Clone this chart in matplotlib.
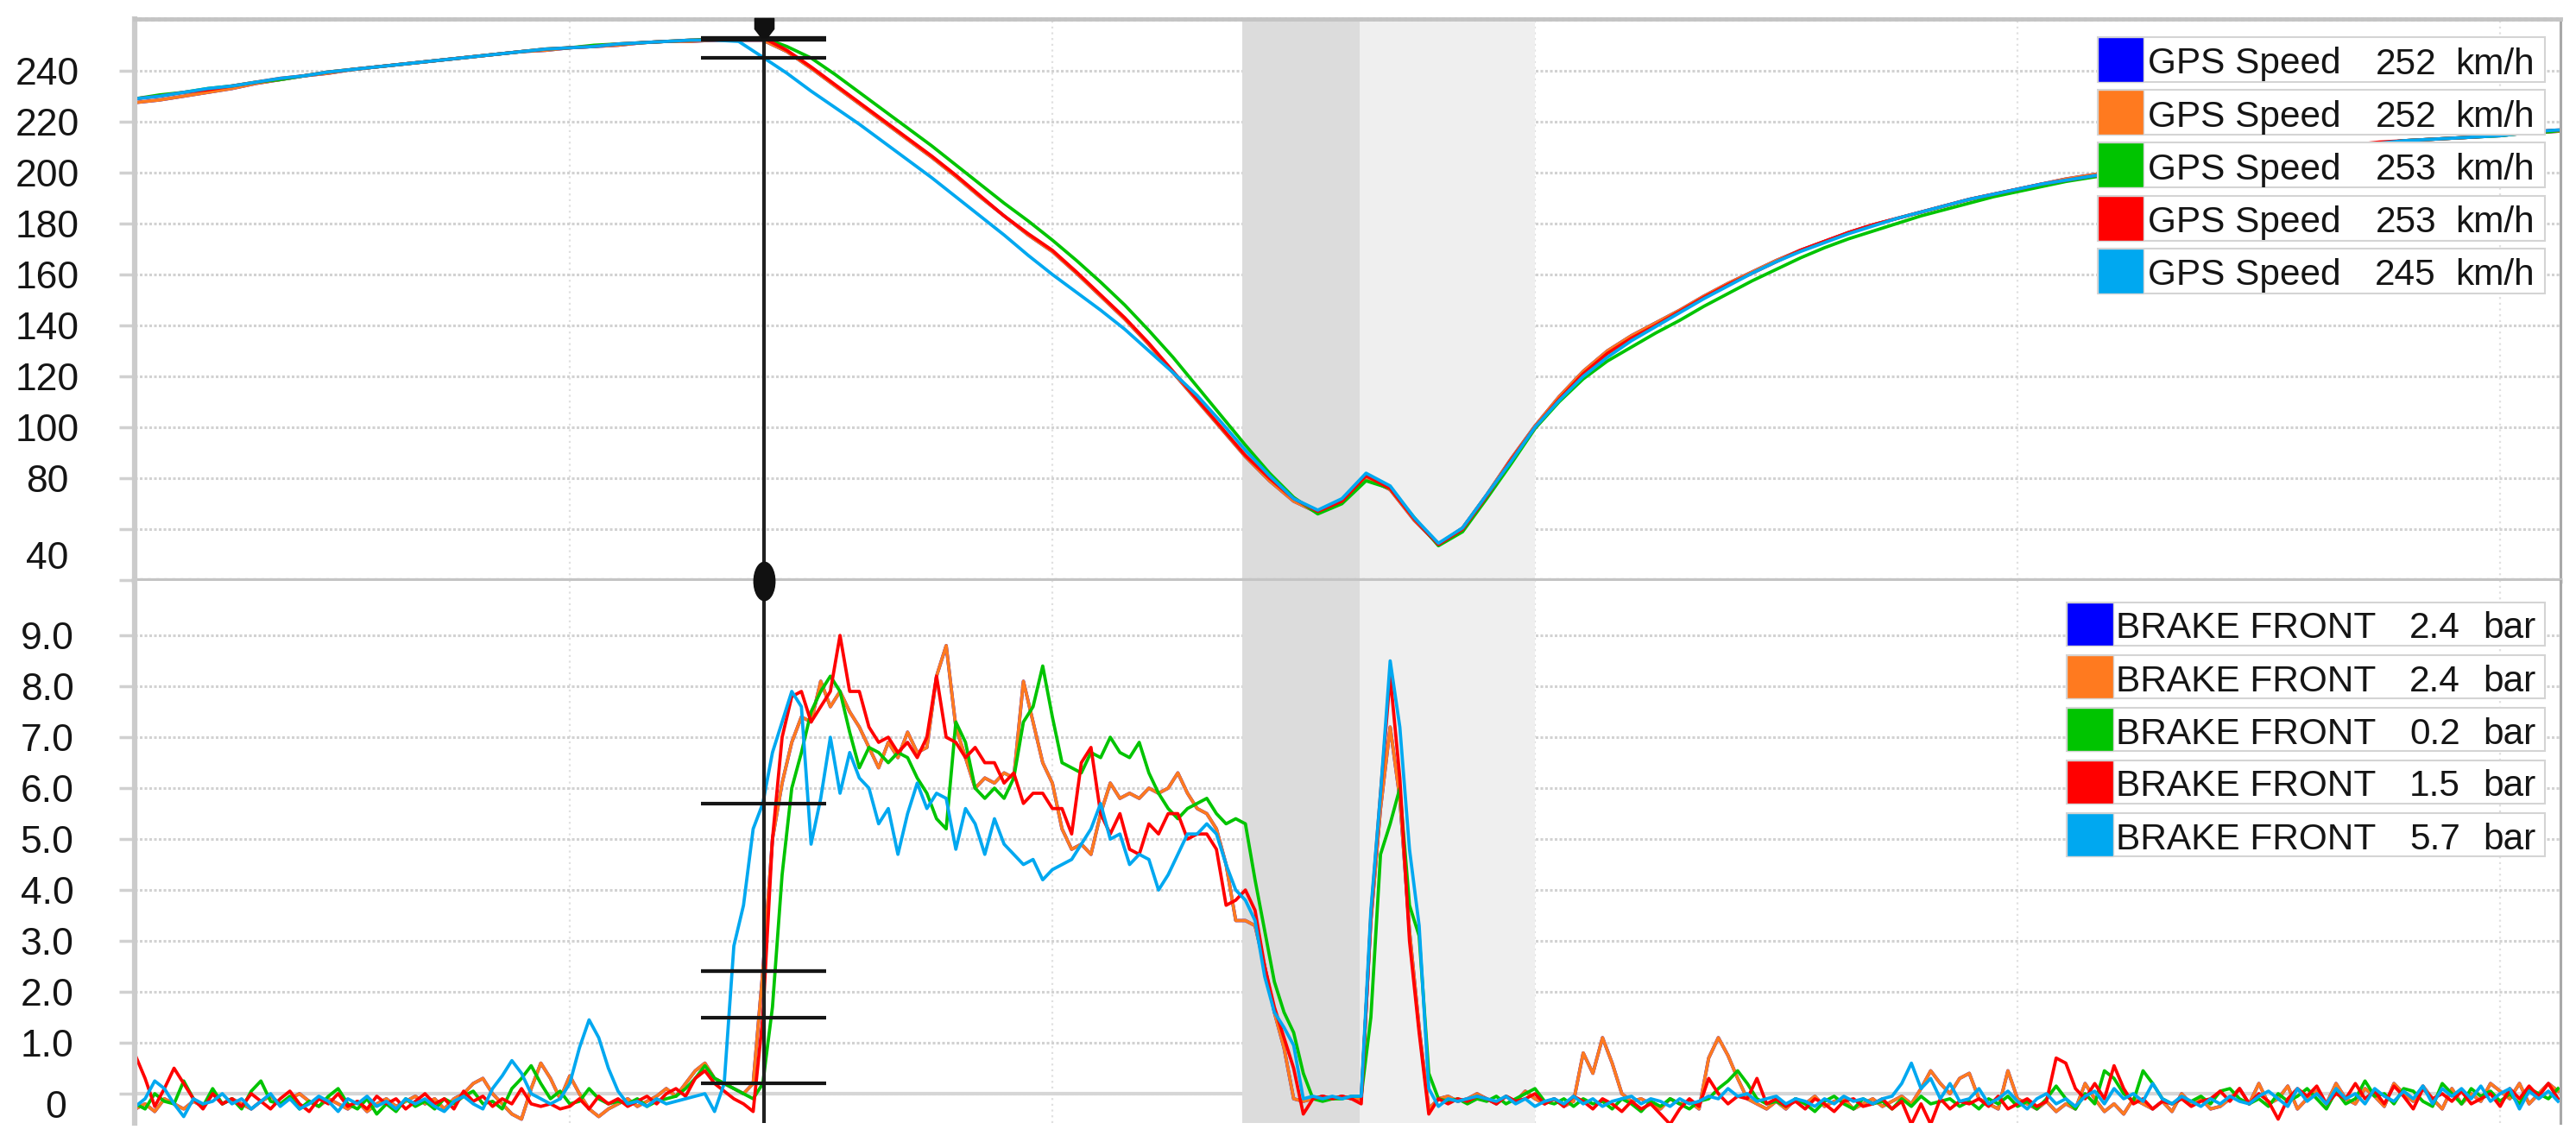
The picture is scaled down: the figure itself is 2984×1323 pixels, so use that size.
import numpy as np
import matplotlib.pyplot as plt
from matplotlib.path import Path
from matplotlib.patches import Rectangle
from matplotlib import transforms

plt.rcParams['font.family'] = ['Liberation Sans', 'DejaVu Sans']

W, H = 2984, 1323

# five laps, dark blue lap sits under the orange one
colors = ['#0000ff', '#ff7a1f', '#00c400', '#ff0000', '#00a8f0']

cursor_x = 140.2
speed_cursor = [252, 252, 253, 253, 245]
brake_cursor = [2.4, 2.4, 0.2, 1.5, 5.7]
dark_zone = (239.4, 263.6)
light_zone = (263.6, 300.0)

# ---- GPS speed (km/h), sampled every 5 m from 10 m
speed_x = np.arange(10, 520, 5)

speed_red = [
    229, 230, 231.5, 232.5, 234, 235.5, 237, 238, 239.5, 240.5,
    241.5, 242.5, 243.5, 244.5, 245.5, 246.5, 247.5, 248.5, 249, 249.5,
    250.5, 251, 251.5, 252, 252, 252.5, 253, 248, 241.5, 234.5,
    227.5, 220.5, 213.5, 206.5, 199, 191, 183, 176, 169.5, 161,
    152, 143, 133, 122, 111, 100, 89, 80, 72, 67,
    71, 81, 76, 64, 54, 60, 73, 87, 100, 111,
    121, 129, 135, 140, 145.5, 151, 156, 160.5, 165, 169.5,
    173, 176.5, 179.5, 182, 184.5, 187, 189.5, 191.5, 193.5, 195.5,
    197, 198.5, 200, 201.5, 203, 204, 205.5, 206.5, 207.5, 208.5,
    209.5, 210.5, 211, 212, 212.5, 213, 213.5, 214, 215, 215.5,
    216.5, 217]

speed_green = [
    229, 230.5, 231.5, 233, 234, 235.5, 236.5, 238, 239.5, 240.5,
    241.5, 242.5, 243.5, 244.5, 245.5, 246.5, 247.5, 248.5, 249, 250,
    250.5, 251, 251.5, 252, 252.5, 252.5, 253, 249.5, 245, 238.5,
    231.5, 224.5, 217.5, 210.5, 203, 195.5, 188, 181, 173.5, 165.5,
    157, 148, 138, 127.5, 116, 104.5, 93, 82, 72.5, 66,
    70, 79, 76, 64.5, 53.5, 59, 72, 85.5, 99.5, 110,
    119, 126, 131.5, 137, 142, 147.5, 152.5, 157.5, 162, 166.5,
    170.5, 174, 177, 180, 183, 185.5, 188, 190.5, 192.5, 194.5,
    196.5, 198, 199.5, 201, 202.5, 204, 205, 206.5, 207.5, 208.5,
    209.5, 210, 211, 211.5, 212.5, 213, 213.5, 214, 214.5, 215.5,
    216, 217]

speed_orange = [
    227.5, 228.5, 230, 231.5, 233, 235, 236.5, 238, 239, 240.5,
    241.5, 242.5, 243.5, 244.5, 245.5, 246.5, 247.5, 248, 249, 249.5,
    250, 251, 251.5, 251.5, 252, 252, 252, 247.5, 241, 234,
    227, 220, 213, 206, 198.5, 190.5, 183, 175.5, 169, 160.5,
    151.5, 142.5, 132.5, 121.5, 110.5, 99.5, 88.5, 79, 71, 66.5,
    70.5, 80.5, 75.5, 63.5, 54, 60.5, 73.5, 87.5, 100.5, 112,
    122, 130, 136, 141, 146, 151.5, 156.5, 161, 165.5, 169.5,
    173, 176.5, 179.5, 182, 184.5, 187, 189.5, 191.5, 193.5, 195.5,
    197.5, 199, 200.5, 202, 203, 204.5, 205.5, 206.5, 207.5, 208.5,
    209.5, 210, 211, 211.5, 212.5, 213, 213.5, 214, 214.5, 215.5,
    216, 216.5]

speed_lightblue = [
    229, 230, 231.5, 233, 234, 235.5, 237, 238, 239.5, 240.5,
    241.5, 242.5, 243.5, 244.5, 245.5, 246.5, 247.5, 248.5, 249, 249.5,
    250.5, 251, 251.5, 252, 252, 251.5, 245.3, 239, 232, 225.5,
    219, 212, 205, 198, 190.5, 183, 175.5, 167.5, 160, 153,
    146, 138.5, 130, 121.5, 112.5, 102, 91, 81, 72, 67.5,
    72, 82, 77, 64.5, 54.5, 60.5, 73.5, 86.5, 100, 110.5,
    120, 127.5, 134, 139.5, 145, 150.5, 155.5, 160.5, 165, 169,
    172.5, 176, 179, 182, 184.5, 187, 189.5, 191.5, 193.5, 195.5,
    197, 198.5, 200, 201.5, 202.5, 204, 205, 206.5, 207.5, 208.5,
    209.5, 210.5, 211, 211.5, 212.5, 213, 213.5, 214, 214.5, 215.5,
    216.5, 217]

speed_blue = list(speed_orange)

# ---- front brake pressure (bar), sampled every 2 m from 10 m
brake_x = np.arange(10, 514, 2)

brake_red = [
    0.75, 0.3, -0.25, 0.1, 0.5, 0.2, -0.1, -0.3, 0.0, -0.2,
    -0.1, -0.25, 0.0, -0.15, -0.3, -0.1, 0.05, -0.2, -0.35, -0.1,
    -0.2, 0.0, -0.25, -0.15, -0.3, -0.05, -0.2, -0.1, -0.3, -0.15,
    0.0, -0.2, -0.1, -0.3, 0.05, -0.15, -0.05, -0.25, -0.1, -0.2,
    0.1, -0.2, -0.25, -0.2, -0.3, -0.25, -0.1, -0.3, -0.05, -0.2,
    -0.1, -0.25, -0.15, -0.05, -0.2, 0.0, 0.1, -0.05, 0.3, 0.45,
    0.2, 0.05, -0.1, -0.2, -0.35, 1.5, 5.0, 7.0, 7.8, 7.9,
    7.3, 7.6, 7.9, 9.0, 7.9, 7.9, 7.2, 6.9, 7.0, 6.7,
    6.9, 6.6, 7.0, 8.2, 7.0, 6.9, 6.6, 6.8, 6.5, 6.5,
    6.1, 6.3, 5.7, 5.9, 5.9, 5.6, 5.6, 5.1, 6.5, 6.8,
    5.5, 5.1, 5.5, 4.8, 4.7, 5.3, 5.1, 5.5, 5.5, 5.0,
    5.1, 5.1, 4.8, 3.7, 3.8, 4.0, 3.6, 2.5, 1.7, 1.1,
    0.5, -0.4, -0.1, -0.05, -0.1, -0.05, -0.1, -0.2, 3.5, 5.9,
    8.2, 6.2, 3.0, 1.2, -0.4, -0.1, -0.2, -0.1, -0.15, -0.05,
    -0.1, -0.2, -0.05, -0.15, -0.1, 0.0, -0.2, -0.1, -0.25, -0.05,
    -0.15, -0.3, -0.1, -0.2, -0.35, -0.15, -0.3, -0.2, -0.4, -0.6,
    -0.3, -0.1, -0.25, 0.3, 0.0, -0.2, -0.05, -0.1, 0.3, -0.2,
    -0.1, -0.25, -0.15, -0.3, -0.1, -0.2, -0.35, -0.15, -0.1, -0.25,
    -0.2, -0.1, -0.3, -0.15, -0.6, -0.2, -0.6, -0.1, -0.3, -0.15,
    -0.2, -0.1, -0.25, -0.05, -0.3, -0.2, -0.1, -0.25, -0.15, 0.7,
    0.6, 0.1, -0.1, 0.2, -0.1, 0.55, 0.1, -0.2, -0.1, -0.3,
    -0.15, -0.2, -0.1, -0.25, -0.15, -0.1, 0.05, -0.15, 0.1, -0.2,
    0.0, -0.15, -0.5, -0.1, 0.1, -0.05, 0.15, -0.2, 0.0, -0.1,
    0.2, -0.1, 0.05, -0.2, 0.15, -0.05, -0.3, 0.1, -0.1, 0.0,
    -0.15, 0.05, -0.2, -0.1, 0.0, -0.25, 0.1, -0.1, 0.15, -0.05,
    0.2, -0.1]

brake_green = [
    -0.2, -0.3, 0.0, -0.15, -0.2, 0.25, -0.1, -0.25, 0.1, -0.2,
    -0.1, -0.3, 0.05, 0.25, -0.15, -0.2, -0.05, -0.3, -0.15, -0.25,
    -0.05, 0.1, -0.2, -0.3, -0.1, -0.4, -0.2, -0.35, -0.1, -0.25,
    -0.15, -0.3, -0.1, -0.2, -0.05, 0.05, -0.2, -0.15, -0.3, 0.1,
    0.3, 0.55, 0.2, -0.1, 0.05, -0.2, -0.15, 0.1, -0.1, -0.2,
    -0.15, -0.2, -0.1, -0.25, -0.15, -0.1, -0.05, 0.1, 0.3, 0.55,
    0.3, 0.2, 0.1, 0.0, -0.1, 0.2, 1.7, 4.3, 6.0, 6.7,
    7.5, 7.9, 8.2, 7.9, 7.1, 6.4, 6.8, 6.7, 6.5, 6.7,
    6.6, 6.2, 5.9, 5.4, 5.2, 7.3, 6.9, 6.0, 5.8, 6.0,
    5.8, 6.2, 7.3, 7.6, 8.4, 7.4, 6.5, 6.4, 6.3, 6.7,
    6.6, 7.0, 6.7, 6.6, 6.9, 6.3, 5.9, 5.6, 5.4, 5.6,
    5.7, 5.8, 5.5, 5.3, 5.4, 5.3, 4.2, 3.2, 2.2, 1.6,
    1.2, 0.4, -0.1, -0.15, -0.1, -0.1, -0.05, -0.05, 1.5, 4.7,
    5.3, 6.0, 3.7, 3.1, 0.4, -0.1, -0.15, -0.1, -0.2, -0.1,
    -0.15, -0.05, -0.2, -0.1, 0.0, 0.1, -0.15, -0.2, -0.1, -0.25,
    -0.1, -0.2, -0.15, -0.3, -0.1, -0.2, -0.35, -0.15, -0.25, -0.1,
    -0.2, -0.3, -0.15, -0.1, 0.1, 0.25, 0.45, 0.2, -0.1, -0.2,
    -0.15, -0.25, -0.1, -0.2, -0.35, -0.15, -0.05, -0.2, -0.3, -0.1,
    -0.2, -0.15, -0.3, -0.1, -0.25, -0.05, -0.2, -0.15, -0.1, -0.25,
    -0.15, -0.3, -0.1, -0.2, -0.05, -0.25, -0.15, -0.3, -0.1, 0.15,
    -0.1, -0.3, 0.0, -0.2, 0.45, 0.3, 0.0, -0.15, 0.45, 0.2,
    -0.1, -0.2, -0.1, -0.15, -0.05, -0.2, 0.05, 0.1, -0.1, -0.2,
    -0.1, -0.25, 0.0, -0.15, -0.05, 0.1, -0.1, -0.3, 0.05, -0.2,
    -0.1, 0.25, -0.05, 0.0, -0.2, 0.1, 0.05, -0.15, -0.25, 0.2,
    0.0, -0.2, 0.1, -0.05, 0.05, -0.15, 0.0, -0.2, 0.1, 0.0,
    -0.1, 0.1]

brake_orange = [
    -0.3, -0.2, -0.35, -0.1, -0.2, -0.3, -0.15, -0.25, 0.0, -0.2,
    -0.1, -0.2, -0.3, -0.15, -0.05, -0.2, -0.1, 0.0, -0.15, -0.25,
    -0.1, -0.2, -0.3, -0.15, -0.35, -0.2, -0.1, -0.25, -0.15, -0.05,
    -0.2, -0.1, -0.3, -0.1, 0.0, 0.2, 0.3, 0.0, -0.2, -0.4,
    -0.5, 0.1, 0.6, 0.3, -0.1, 0.35, 0.0, -0.3, -0.45, -0.3,
    -0.2, -0.1, -0.25, -0.15, -0.05, 0.1, -0.05, 0.2, 0.45, 0.6,
    0.3, 0.2, 0.1, 0.0, 0.2, 2.4, 5.0, 6.1, 6.9, 7.4,
    7.3, 8.1, 7.6, 7.9, 7.5, 7.2, 6.8, 6.4, 6.9, 6.6,
    7.1, 6.7, 6.8, 8.2, 8.8, 7.2, 6.6, 6.0, 6.2, 6.1,
    6.3, 6.2, 8.1, 7.3, 6.5, 6.1, 5.2, 4.8, 4.9, 4.7,
    5.5, 6.1, 5.8, 5.9, 5.8, 6.0, 5.9, 6.0, 6.3, 5.9,
    5.6, 5.5, 5.2, 4.5, 3.4, 3.4, 3.3, 2.5, 1.6, 0.9,
    -0.1, -0.15, -0.1, -0.05, -0.1, -0.05, -0.1, -0.1, 3.4, 5.6,
    7.2, 5.8, 3.2, 1.3, -0.3, -0.1, -0.05, -0.15, -0.1, 0.0,
    -0.1, -0.2, -0.05, -0.15, 0.05, -0.1, -0.2, -0.1, -0.25, -0.15,
    0.8, 0.4, 1.1, 0.6, 0.0, -0.15, -0.1, -0.2, -0.3, -0.1,
    -0.2, -0.15, -0.3, 0.7, 1.1, 0.75, 0.3, -0.1, -0.2, -0.3,
    -0.15, -0.3, -0.1, -0.2, -0.05, -0.25, -0.15, -0.1, -0.3, -0.2,
    -0.1, -0.25, -0.15, -0.05, -0.2, 0.1, 0.45, 0.2, 0.0, 0.3,
    0.4, -0.1, -0.2, -0.3, 0.45, -0.1, -0.2, -0.3, -0.15, -0.35,
    -0.2, -0.3, 0.2, -0.1, -0.35, -0.2, -0.4, -0.1, -0.2, -0.3,
    -0.15, -0.35, 0.0, -0.2, -0.1, -0.3, -0.25, -0.1, 0.1, -0.2,
    0.2, -0.2, -0.1, 0.15, -0.3, -0.1, 0.05, -0.2, 0.2, -0.1,
    -0.2, 0.1, -0.05, -0.25, 0.2, 0.0, -0.15, 0.15, -0.1, -0.3,
    0.1, -0.2, 0.0, -0.15, 0.2, 0.05, -0.1, 0.2, -0.2, 0.0,
    0.2, 0.05]

brake_lightblue = [
    -0.25, -0.1, 0.25, 0.1, -0.2, -0.45, -0.1, -0.2, -0.15, 0.0,
    -0.2, -0.1, -0.3, -0.15, 0.0, -0.25, -0.1, -0.3, -0.2, -0.05,
    -0.15, -0.35, -0.1, -0.2, -0.05, -0.25, -0.15, -0.3, -0.1, -0.2,
    -0.1, -0.25, -0.35, -0.15, -0.05, -0.2, -0.3, 0.1, 0.35, 0.65,
    0.4, 0.0, -0.1, -0.2, -0.1, 0.2, 0.9, 1.45, 1.1, 0.5,
    0.05, -0.2, -0.15, -0.25, -0.1, -0.2, -0.15, -0.1, -0.05, 0.0,
    -0.35, 0.2, 2.9, 3.7, 5.2, 5.7, 6.7, 7.3, 7.9, 7.6,
    4.9, 5.8, 7.0, 5.9, 6.7, 6.2, 6.0, 5.3, 5.6, 4.7,
    5.5, 6.1, 5.6, 5.9, 5.8, 4.8, 5.6, 5.3, 4.7, 5.4,
    4.9, 4.7, 4.5, 4.6, 4.2, 4.4, 4.5, 4.6, 4.9, 5.2,
    5.7, 5.0, 5.1, 4.5, 4.7, 4.6, 4.0, 4.3, 4.7, 5.1,
    5.1, 5.3, 5.1, 4.5, 4.0, 3.8, 3.4, 2.3, 1.6, 1.3,
    0.95, -0.1, -0.05, -0.1, -0.05, -0.1, -0.05, -0.05, 3.6, 5.9,
    8.5, 7.2, 4.8, 3.3, 0.1, -0.25, -0.1, -0.15, -0.1, -0.05,
    -0.1, -0.15, -0.05, -0.2, -0.1, -0.25, -0.15, -0.1, -0.2, -0.05,
    -0.2, -0.1, -0.25, -0.15, -0.1, -0.05, -0.2, -0.1, -0.15, -0.25,
    -0.1, -0.2, -0.15, -0.05, -0.1, 0.1, -0.05, 0.0, -0.15, -0.1,
    -0.05, -0.2, -0.1, -0.15, -0.25, -0.1, -0.2, -0.05, -0.15, -0.1,
    -0.2, -0.1, -0.05, 0.2, 0.6, 0.1, 0.3, -0.1, 0.2, -0.15,
    -0.1, 0.1, -0.2, -0.1, 0.05, -0.15, -0.3, -0.1, 0.0, -0.2,
    -0.1, -0.25, -0.05, 0.05, -0.2, 0.1, -0.1, 0.0, -0.15, 0.2,
    -0.1, -0.2, -0.05, -0.15, -0.25, -0.1, -0.2, -0.05, -0.15, -0.2,
    -0.05, 0.05, -0.1, -0.25, 0.1, -0.15, 0.0, -0.2, 0.1, -0.1,
    0.0, -0.2, 0.1, -0.05, -0.15, 0.05, -0.1, 0.15, -0.2, 0.1,
    -0.05, 0.1, -0.1, 0.15, -0.15, 0.0, 0.1, -0.3, 0.05, -0.1,
    0.05, -0.15]

brake_blue = list(brake_orange)

speeds = [speed_blue, speed_orange, speed_green, speed_red, speed_lightblue]
brakes = [brake_blue, brake_orange, brake_green, brake_red, brake_lightblue]
for s in speeds:
    assert len(s) == len(speed_x)
for b in brakes:
    assert len(b) == len(brake_x)

fig = plt.figure(figsize=(W / 100, H / 100), dpi=100)
ax1 = fig.add_axes([156 / W, 1 - 673 / H, 2810 / W, 651 / H])
ax2 = fig.add_axes([156 / W, 1 - 1301 / H, 2810 / W, 628 / H], sharex=ax1)

ax1.set_xlim(9.84, 512.5)
ax1.set_ylim(39.7, 260.3)
ax2.set_ylim(-0.576, 10.07)

spd_ticks = np.arange(40, 260, 20)
spd_labels = ['' if t in (40, 60) else str(t) for t in spd_ticks]
brk_ticks = np.arange(0, 10)
brk_labels = [''] + ['%.1f' % t for t in brk_ticks[1:]]

for ax, ticks, labels in ((ax1, spd_ticks, spd_labels), (ax2, brk_ticks, brk_labels)):
    ax.set_yticks(ticks, labels)
    ax.set_xticks([100, 200, 300, 400, 500])
    ax.tick_params(axis='x', bottom=False, labelbottom=False)
    ax.tick_params(axis='y', length=13, width=2.5, color='#d0d0d0', pad=60,
                   labelsize=32, labelcolor='#151515')
    for lab in ax.get_yticklabels():
        lab.set_horizontalalignment('center')
    ax.grid(axis='y', color='#d2d2d2', lw=2.2, ls=(0, (1, 0.8)))
    ax.grid(axis='x', color='#e0e0e0', lw=1.6, ls=(0, (1, 2)))
    ax.set_axisbelow(True)
    ax.axvspan(*dark_zone, color='#dcdcdc', lw=0, zorder=1)
    ax.axvspan(*light_zone, color='#efefef', lw=0, zorder=1)
    ax.spines['left'].set(color='#cbcbcb', lw=4.5)
    ax.spines['right'].set(color='#a8a8a8', lw=2.2)

ax1.spines['top'].set(color='#c4c4c4', lw=3.5, ls=(0, (1, 0.5)))
ax1.spines['bottom'].set(color='#c4c4c4', lw=4.5, ls=(0, (1, 0.5)))
ax2.spines['top'].set_visible(False)
ax2.spines['bottom'].set_visible(False)
ax2.axhline(0, color='#d6d6d6', lw=3, zorder=0.6)

# labels of the two edge ticks sit off their grid lines
tr1 = transforms.offset_copy(ax1.get_yaxis_transform(), fig=fig, x=-101, y=29, units='dots')
ax1.text(0, 40, '40', transform=tr1, ha='center', va='center_baseline',
         fontsize=32, color='#151515')
tr2 = transforms.offset_copy(ax2.get_yaxis_transform(), fig=fig, x=-91, y=-12, units='dots')
ax2.text(0, 0, '0', transform=tr2, ha='center', va='center_baseline',
         fontsize=32, color='#151515')

for s, c in zip(speeds, colors):
    ax1.plot(speed_x, s, color=c, lw=2.7, zorder=2)
for b, c in zip(brakes, colors):
    ax2.plot(brake_x, b, color=c, lw=2.7, zorder=2)

# cursor
for ax, vals in ((ax1, speed_cursor), (ax2, brake_cursor)):
    ax.axvline(cursor_x, color='#202020', lw=3, zorder=5)
    ax.hlines(vals, cursor_x - 13, cursor_x + 13, color='#151515', lw=3, zorder=6)

capsule = Path.unit_circle().transformed(transforms.Affine2D().scale(0.55, 1.0))
ax2.plot([cursor_x], [10.07], marker=capsule, ms=32, color='#111111',
         clip_on=False, zorder=7)
tab = Path([(-1, 1), (1, 1), (1, -0.1), (0.3, -1), (-0.3, -1), (-1, -0.1), (-1, 1)],
           [Path.MOVETO] + [Path.LINETO] * 5 + [Path.CLOSEPOLY])
ax1.plot([cursor_x], [257.0], marker=tab, ms=16, color='#111111',
         clip_on=False, zorder=7)


def legend_rows(tops, h, x0, sw, x1, name, vals, fmt, unit, name_x, val_x, unit_x):
    for top, v, c in zip(tops, vals, colors):
        y0 = 1 - (top + h) / H
        fig.add_artist(Rectangle((x0 / W, y0), (x1 - x0) / W, h / H, transform=fig.transFigure,
                                 facecolor='white', edgecolor='#d4d4d4', lw=1.5, zorder=8))
        fig.add_artist(Rectangle((x0 / W, y0), sw / W, h / H, transform=fig.transFigure,
                                 facecolor=c, edgecolor='#d4d4d4', lw=1.0, zorder=9))
        yc = 1 - (top + h / 2 + 1) / H
        kw = dict(va='center_baseline', fontsize=30.5, color='#151515', zorder=10)
        fig.text(name_x / W, yc, name, ha='left', **kw)
        fig.text(val_x / W, yc, fmt.format(v), ha='right', **kw)
        fig.text(unit_x / W, yc, unit, ha='left', **kw)


legend_rows([43 + 61.2 * i for i in range(5)], 52, 2430, 53, 2948,
            'GPS Speed', speed_cursor, '{:.0f}', 'km/h', 2488, 2822, 2844)
legend_rows([698 + 61 * i for i in range(5)], 50, 2394, 54, 2948,
            'BRAKE FRONT', brake_cursor, '{:.1f}', 'bar', 2451, 2850, 2876)

fig.savefig('out.png', dpi=100)
